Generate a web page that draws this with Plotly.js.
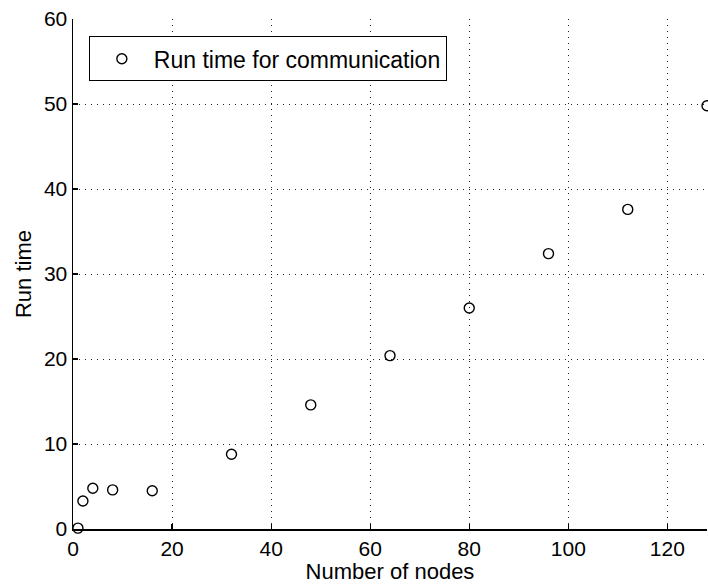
<!DOCTYPE html>
<html>
<head>
<meta charset="utf-8">
<script src="https://cdn.plot.ly/plotly-3.0.1.min.js"></script>
<style>html,body{margin:0;padding:0;background:#fff;}</style>
</head>
<body>
<div id="chart" style="width:708px;height:584px;"></div>
<script>
const nodes = [1, 2, 4, 8, 16, 32, 48, 64, 80, 96, 112, 128];
const runTime = [0.1, 3.3, 4.8, 4.6, 4.5, 8.8, 14.6, 20.4, 26.0, 32.4, 37.6, 49.8];
const seriesName = 'Run time for communication';
const xTicks = [0, 20, 40, 60, 80, 100, 120];
const yTicks = [0, 10, 20, 30, 40, 50, 60];

const family = '"Liberation Sans", Arial, Helvetica, sans-serif';
const tickFont = {family: family, size: 21, color: '#000'};
const titleFont = {family: family, size: 22, color: '#000'};
const legendFont = {family: family, size: 23, color: '#000'};

const trace = {
  x: nodes, y: runTime, name: seriesName,
  type: 'scatter', mode: 'markers', cliponaxis: false,
  marker: {symbol: 'circle-open', size: 10, color: '#000', line: {width: 1.4, color: '#000'}},
  showlegend: true
};

const axisCommon = {
  showline: true, linecolor: '#000', linewidth: 1.5,
  ticks: 'inside', ticklen: 5, tickcolor: '#000', tickwidth: 1.2,
  showgrid: true, gridcolor: '#222', gridwidth: 1, griddash: '1px,5px',
  zeroline: false, tickfont: tickFont, mirror: false
};

const layout = {
  width: 708, height: 584,
  margin: {l: 73, r: 1, t: 19, b: 55},
  paper_bgcolor: '#fff', plot_bgcolor: '#fff',
  font: tickFont,
  showlegend: true,
  xaxis: Object.assign({}, axisCommon, {
    range: [0, 128], tickvals: xTicks, ticktext: xTicks.map(String),
    title: {text: 'Number of nodes', font: titleFont, standoff: 1}
  }),
  yaxis: Object.assign({}, axisCommon, {
    range: [0, 60], tickvals: yTicks, ticktext: yTicks.map(String),
    title: {text: 'Run time', font: titleFont, standoff: 6}
  }),
  legend: {
    x: 0.025, y: 0.966, xanchor: 'left', yanchor: 'top',
    bgcolor: '#fff', bordercolor: '#000', borderwidth: 1,
    font: legendFont, itemwidth: 54
  }
};

Plotly.newPlot('chart', [trace], layout, {staticPlot: true, displayModeBar: false});
</script>
</body>
</html>
